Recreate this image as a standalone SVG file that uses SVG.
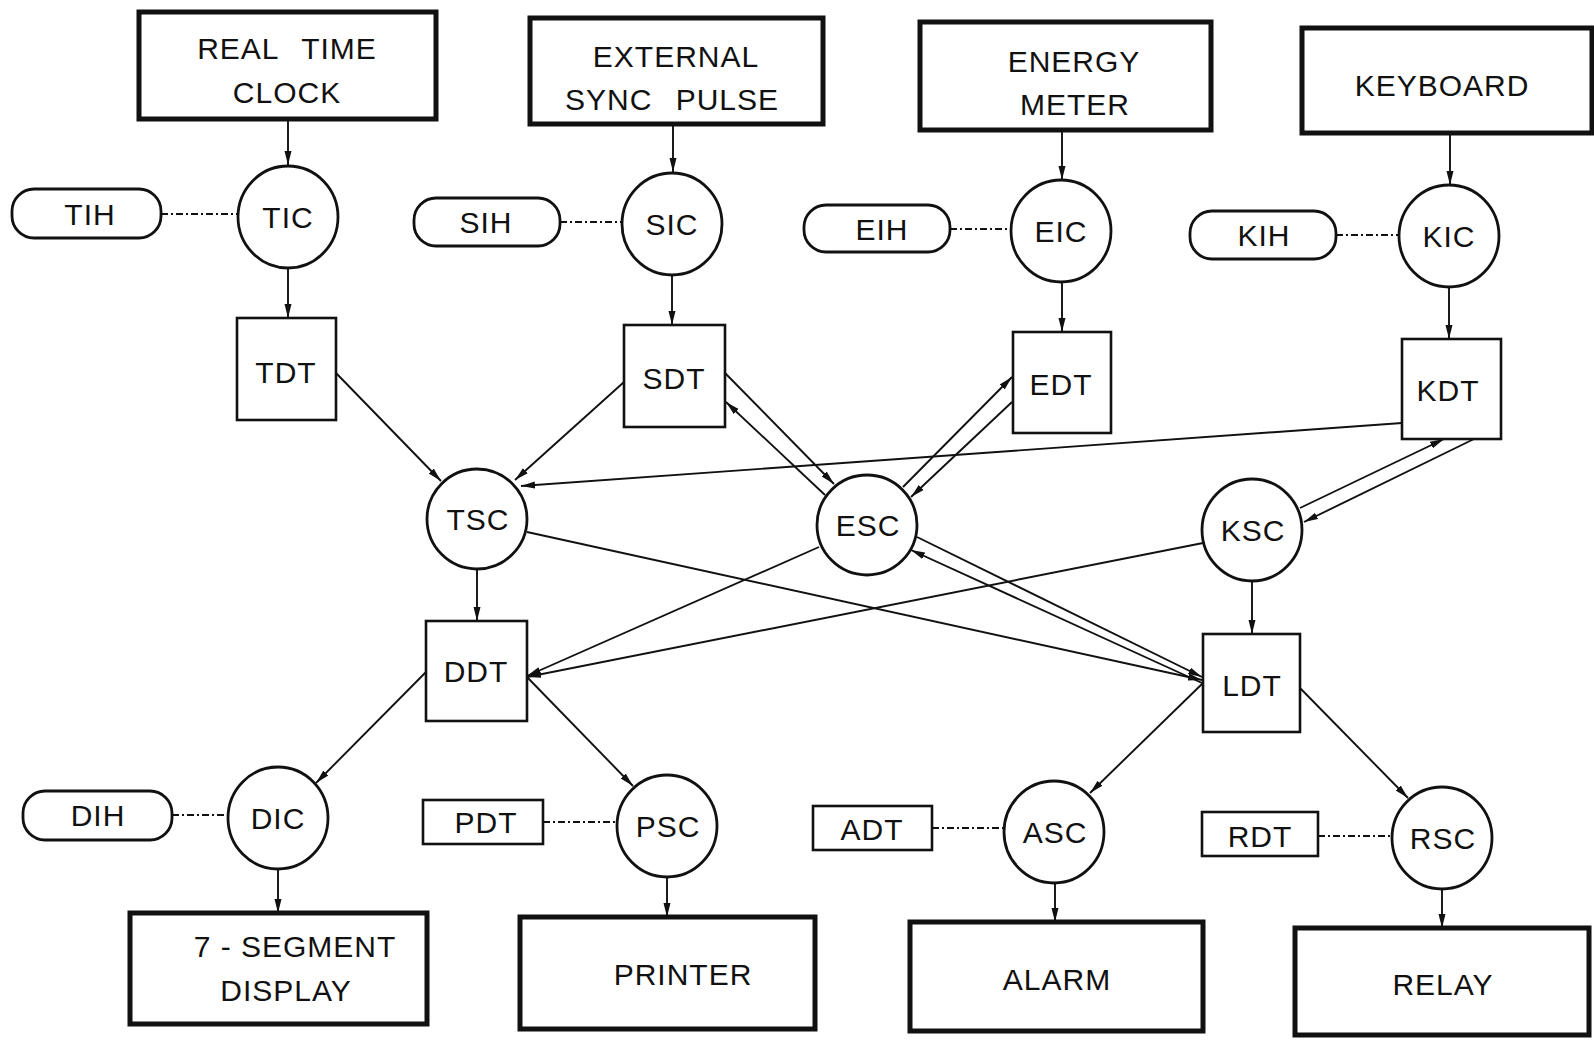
<svg xmlns="http://www.w3.org/2000/svg" width="1594" height="1041" viewBox="0 0 1594 1041">
<style>
text{font-family:"Liberation Sans",Arial,sans-serif;font-size:30px;fill:#111;text-anchor:middle;letter-spacing:1px}
.big rect{fill:#fff;stroke:#111;stroke-width:5}
.proc ellipse{fill:#fff;stroke:#111;stroke-width:2.8}
.store rect{fill:#fff;stroke:#111;stroke-width:2.6}
.pill rect{fill:#fff;stroke:#111;stroke-width:2.8}
.c line{stroke:#111;stroke-width:1.9;fill:none}
.c line.a{marker-end:url(#ah)}
.c line.d{stroke-dasharray:7 3 2 3;stroke-width:2}
</style>
<defs>
<marker id="ah" markerUnits="userSpaceOnUse" markerWidth="15" markerHeight="9" viewBox="0 0 15 9" refX="14" refY="4.5" orient="auto">
<path d="M0,1 L14,4.5 L0,8 Z" fill="#111"/>
</marker>
</defs>
<rect width="1594" height="1041" fill="#fff"/>

<g id="connectors" class="c">
<line class="a" x1="288" y1="119" x2="288" y2="165"/>
<line class="a" x1="288" y1="268" x2="288" y2="318"/>
<line class="a" x1="673" y1="124" x2="673" y2="172"/>
<line class="a" x1="672" y1="275" x2="672" y2="325"/>
<line class="a" x1="1062" y1="130" x2="1062" y2="180"/>
<line class="a" x1="1062" y1="282" x2="1062" y2="332"/>
<line class="a" x1="1450" y1="133" x2="1450" y2="185"/>
<line class="a" x1="1449" y1="287" x2="1449" y2="339"/>
<line class="a" x1="477" y1="570" x2="477" y2="621"/>
<line class="a" x1="1252" y1="581" x2="1252" y2="634"/>
<line class="a" x1="278" y1="870" x2="278" y2="913"/>
<line class="a" x1="667" y1="877" x2="667" y2="917"/>
<line class="a" x1="1055" y1="883" x2="1055" y2="922"/>
<line class="a" x1="1442" y1="889" x2="1442" y2="928"/>

<line class="a" x1="336" y1="373" x2="441" y2="481"/>
<line class="a" x1="624" y1="382" x2="515" y2="480"/>
<line class="a" x1="1402" y1="423" x2="521" y2="486"/>
<line class="a" x1="725" y1="373" x2="834" y2="484"/>
<line class="a" x1="825" y1="495" x2="726" y2="402"/>
<line class="a" x1="903" y1="487" x2="1012" y2="377"/>
<line class="a" x1="1012" y1="402" x2="911" y2="497"/>
<line class="a" x1="1300" y1="508" x2="1444" y2="439"/>
<line class="a" x1="1474" y1="439" x2="1304" y2="522"/>
<line class="a" x1="527" y1="532" x2="1202" y2="680"/>
<line class="a" x1="917" y1="537" x2="1202" y2="677"/>
<line class="a" x1="1202" y1="683" x2="911" y2="550"/>
<line class="a" x1="819" y1="547" x2="527" y2="676"/>
<line class="a" x1="1203" y1="543" x2="527" y2="677"/>
<line class="a" x1="426" y1="672" x2="316" y2="783"/>
<line class="a" x1="527" y1="677" x2="633" y2="786"/>
<line class="a" x1="1203" y1="683" x2="1090" y2="793"/>
<line class="a" x1="1300" y1="688" x2="1408" y2="798"/>

<line class="d" x1="161" y1="214" x2="237" y2="214"/>
<line class="d" x1="560" y1="222" x2="621" y2="222"/>
<line class="d" x1="950" y1="229" x2="1010" y2="229"/>
<line class="d" x1="1336" y1="235" x2="1398" y2="235"/>
<line class="d" x1="172" y1="815" x2="228" y2="815"/>
<line class="d" x1="543" y1="822" x2="617" y2="822"/>
<line class="d" x1="932" y1="828" x2="1004" y2="828"/>
<line class="d" x1="1318" y1="836" x2="1391" y2="836"/>
</g>

<g id="realtimeclock" class="big"><rect x="139" y="12" width="297" height="107"/><text x="287" y="59" word-spacing="14">REAL TIME</text><text x="287" y="103">CLOCK</text></g>
<g id="externalsync" class="big"><rect x="530" y="18" width="293" height="106"/><text x="676" y="67">EXTERNAL</text><text x="672" y="110" word-spacing="14">SYNC PULSE</text></g>
<g id="energymeter" class="big"><rect x="920" y="22" width="291" height="108"/><text x="1074" y="72">ENERGY</text><text x="1075" y="115">METER</text></g>
<g id="keyboard" class="big"><rect x="1302" y="28" width="290" height="105"/><text x="1442" y="96">KEYBOARD</text></g>

<g id="TIH" class="pill"><rect x="12" y="189" width="149" height="49" rx="22"/><text x="90" y="225">TIH</text></g>
<g id="SIH" class="pill"><rect x="414" y="198" width="146" height="48" rx="22"/><text x="486" y="233">SIH</text></g>
<g id="EIH" class="pill"><rect x="804" y="205" width="146" height="47" rx="22"/><text x="882" y="240">EIH</text></g>
<g id="KIH" class="pill"><rect x="1190" y="211" width="146" height="48" rx="22"/><text x="1264" y="246">KIH</text></g>
<g id="DIH" class="pill"><rect x="23" y="791" width="149" height="49" rx="22"/><text x="98" y="826">DIH</text></g>

<g id="TIC" class="proc"><ellipse cx="288" cy="217" rx="50" ry="51"/><text x="288" y="228">TIC</text></g>
<g id="SIC" class="proc"><ellipse cx="672" cy="224" rx="50" ry="51"/><text x="672" y="235">SIC</text></g>
<g id="EIC" class="proc"><ellipse cx="1061" cy="231" rx="50" ry="51"/><text x="1061" y="242">EIC</text></g>
<g id="KIC" class="proc"><ellipse cx="1449" cy="236" rx="50" ry="51"/><text x="1449" y="247">KIC</text></g>

<g id="TDT" class="store"><rect x="237" y="318" width="99" height="102"/><text x="286" y="383">TDT</text></g>
<g id="SDT" class="store"><rect x="624" y="325" width="101" height="102"/><text x="674" y="389">SDT</text></g>
<g id="EDT" class="store"><rect x="1013" y="332" width="98" height="101"/><text x="1061" y="395">EDT</text></g>
<g id="KDT" class="store"><rect x="1402" y="339" width="99" height="100"/><text x="1448" y="401">KDT</text></g>

<g id="TSC" class="proc"><ellipse cx="477" cy="519" rx="50" ry="50"/><text x="478" y="530">TSC</text></g>
<g id="ESC" class="proc"><ellipse cx="867" cy="525" rx="50" ry="50"/><text x="868" y="536">ESC</text></g>
<g id="KSC" class="proc"><ellipse cx="1252" cy="530" rx="50" ry="51"/><text x="1253" y="541">KSC</text></g>

<g id="DDT" class="store"><rect x="426" y="621" width="101" height="100"/><text x="476" y="682">DDT</text></g>
<g id="LDT" class="store"><rect x="1203" y="634" width="97" height="98"/><text x="1252" y="696">LDT</text></g>

<g id="DIC" class="proc"><ellipse cx="278" cy="818" rx="50" ry="51"/><text x="278" y="829">DIC</text></g>
<g id="PSC" class="proc"><ellipse cx="667" cy="826" rx="50" ry="51"/><text x="668" y="837">PSC</text></g>
<g id="ASC" class="proc"><ellipse cx="1054" cy="832" rx="50" ry="51"/><text x="1055" y="843">ASC</text></g>
<g id="RSC" class="proc"><ellipse cx="1442" cy="838" rx="50" ry="51"/><text x="1443" y="849">RSC</text></g>

<g id="PDT" class="store"><rect x="423" y="800" width="120" height="44"/><text x="486" y="833">PDT</text></g>
<g id="ADT" class="store"><rect x="813" y="806" width="119" height="44"/><text x="872" y="840">ADT</text></g>
<g id="RDT" class="store"><rect x="1202" y="812" width="116" height="44"/><text x="1260" y="847">RDT</text></g>

<g id="sevensegment" class="big"><rect x="130" y="913" width="297" height="111"/><text x="295" y="957">7 - SEGMENT</text><text x="286" y="1001">DISPLAY</text></g>
<g id="printer" class="big"><rect x="520" y="917" width="295" height="112"/><text x="683" y="985">PRINTER</text></g>
<g id="alarm" class="big"><rect x="910" y="922" width="293" height="109"/><text x="1057" y="990">ALARM</text></g>
<g id="relay" class="big"><rect x="1295" y="928" width="294" height="107"/><text x="1443" y="995">RELAY</text></g>
</svg>
